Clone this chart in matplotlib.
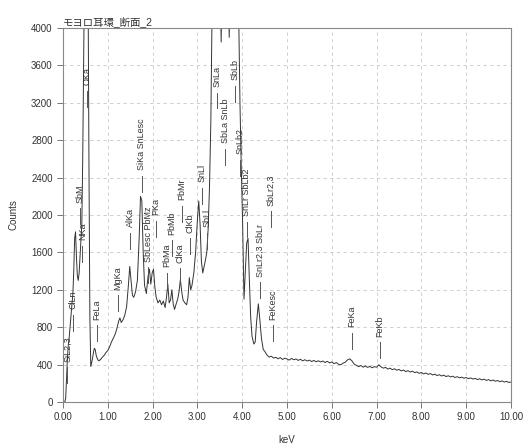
import numpy as np
import matplotlib
matplotlib.use("Agg")
import matplotlib.pyplot as plt

plt.rcParams['font.family'] = ['Liberation Sans', 'Noto Sans CJK JP', 'DejaVu Sans']

# ---------------- data ----------------
title = "モヨロ耳環_断面_2"

# main spectrum (0 - 4.47 keV)
kev_main = [0.00, 0.04, 0.06, 0.08, 0.10, 0.12, 0.14, 0.16, 0.18, 0.20, 0.22, 0.24, 0.26, 0.28,
            0.30, 0.32, 0.34, 0.36, 0.38, 0.40, 0.42, 0.44, 0.46, 0.48, 0.50, 0.52, 0.54, 0.56,
            0.58, 0.60, 0.62, 0.64, 0.66, 0.68, 0.70, 0.72, 0.74, 0.76, 0.78, 0.80, 0.84, 0.88,
            0.92, 0.96, 1.00, 1.04, 1.08, 1.12, 1.16, 1.20, 1.24, 1.27, 1.30, 1.34, 1.38, 1.42,
            1.46, 1.49, 1.52, 1.55, 1.58, 1.62, 1.66, 1.70, 1.73, 1.76, 1.79, 1.82, 1.86, 1.90,
            1.93, 1.96, 1.99, 2.02, 2.05, 2.08, 2.12, 2.16, 2.20, 2.24, 2.28, 2.31, 2.34, 2.37,
            2.40, 2.43, 2.46, 2.49, 2.52, 2.56, 2.59, 2.62, 2.65, 2.68, 2.72, 2.76, 2.79, 2.82,
            2.85, 2.88, 2.92, 2.96, 3.00, 3.03, 3.06, 3.09, 3.12, 3.15, 3.18, 3.21, 3.24, 3.27,
            3.30, 3.33, 3.38, 3.44, 3.50, 3.53, 3.56, 3.62, 3.67, 3.71, 3.74, 3.83, 3.88, 3.92,
            3.95, 3.98, 4.01, 4.04, 4.07, 4.10, 4.13, 4.16, 4.19, 4.22, 4.26, 4.29, 4.32, 4.36,
            4.39, 4.43, 4.47]
counts_main = [0, 0, 40, 250, 480, 620, 700, 820, 950, 1050, 1150, 1400, 1750, 1820,
               1550, 1350, 1300, 1380, 1550, 1700, 1900, 2600, 3600, 4600, 5500, 6000, 5600, 4400,
               2500, 900, 380, 420, 470, 530, 575, 560, 500, 470, 450, 440, 455, 480,
               500, 530, 550, 590, 640, 680, 720, 780, 860, 900, 850, 880, 930, 1020,
               1250, 1450, 1300, 1140, 1120, 1180, 1300, 1750, 2200, 2150, 1600, 1250, 1160, 1350,
               1420, 1260, 1380, 1420, 1230, 1120, 1060, 1090, 1040, 1080, 1010, 1120, 1260, 1060,
               1090, 1200, 1050, 990, 1040, 1100, 1180, 1310, 1180, 1090, 1060, 1040, 1120, 1330,
               1200, 1250, 1380, 1600, 1950, 2150, 1900, 1500, 1380, 1450, 1520, 1600, 1850, 2300,
               3000, 4300, 5500, 6500, 4800, 3850, 4800, 5500, 5200, 3900, 4800, 5000, 4600, 4200,
               3200, 2500, 1900, 1100, 1400, 1700, 1750, 1300, 900, 700, 620, 640, 850, 1050,
               900, 680, 560]

# tail (4.50 - 10.00 keV, every 0.05 keV)
kev_tail = np.round(np.arange(4.50, 10.001, 0.05), 2)
counts_tail = [545, 505, 480, 490, 470, 478, 462, 475, 455, 468, 460, 448, 466, 452, 460, 445,
               457, 440, 452, 438, 448, 432, 445, 430, 441, 428, 438, 422, 435, 418, 428, 410,
               422, 404, 398, 415, 425, 450, 462, 440, 405, 392, 378, 390, 372, 385, 370, 381,
               366, 378, 372, 398, 375, 362, 370, 352, 362, 346, 355, 340, 348, 333, 342, 325,
               336, 320, 330, 314, 322, 306, 316, 300, 310, 296, 304, 289, 298, 283, 292, 278,
               287, 272, 281, 268, 276, 262, 271, 258, 266, 254, 262, 249, 258, 245, 253, 240,
               249, 236, 244, 231, 240, 226, 235, 222, 230, 217, 226, 213, 221, 209, 214]

# peak markers: label, energy (keV), count level at text bottom
marker_labels = ["SiL2,3", "ClLn", "SbM", "NKa", "OKa", "FeLa", "MgKa", "AlKa", "SiKa SnLesc",
                 "SbLesc PbMz", "PKa", "PbMa", "PbMb", "ClKa", "PbMr", "ClKb", "SnLl", "SbLl",
                 "SnLa", "SbLa SnLb", "SbLb", "SnLb2", "SnLr SbLb2", "SnLr2,3 SbLr", "SbLr2,3",
                 "FeKesc", "FeKa", "FeKb"]
marker_kev = [0.10, 0.23, 0.37, 0.43, 0.53, 0.76, 1.23, 1.50, 1.76,
              1.90, 2.08, 2.32, 2.43, 2.61, 2.66, 2.83, 3.10, 3.21,
              3.44, 3.62, 3.84, 3.95, 4.10, 4.40, 4.65,
              4.69, 6.45, 7.08]
marker_base = [430, 990, 2130, 1730, 3390, 880, 1200, 1870, 2480,
               1500, 2000, 1440, 1790, 1490, 2160, 1810, 2350, 1870,
               3370, 2770, 3440, 2650, 1990, 1340, 2100,
               880, 800, 700]

# ---------------- plot ----------------
fig = plt.figure(figsize=(5.23, 4.44), dpi=100)
ax = fig.add_axes([63/523, 1-402/444, (511-63)/523, (402-28)/444])

kev = np.concatenate([np.array(kev_main), kev_tail])
cnt = np.concatenate([np.array(counts_main), np.array(counts_tail)])
ax.plot(kev, cnt, color='#333333', lw=0.7, clip_on=True)

for lab, e, b in zip(marker_labels, marker_kev, marker_base):
    ax.plot([e, e], [b - 230, b - 60], color='#555555', lw=0.7)
    ax.text(e, b, lab, rotation=90, ha='center', va='bottom', fontsize=6.5, color='#333333')

ax.set_xlim(0, 10)
ax.set_ylim(0, 4000)
ax.set_xticks(np.arange(0, 10.01, 1))
ax.set_xticklabels([f"{v:.2f}" for v in np.arange(0, 10.01, 1)])
ax.set_yticks(np.arange(0, 4001, 400))
ax.tick_params(labelsize=7, colors='#333333', length=4, width=0.7, color='#777777')
ax.grid(True, color='#c8c8c8', linestyle=(0, (4, 4)), linewidth=0.6)
for s in ax.spines.values():
    s.set_color('#888888')
    s.set_linewidth(0.8)

ax.set_xlabel("keV", fontsize=7, color='#333333', labelpad=9)
ax.set_ylabel("Counts", fontsize=7, color='#333333', labelpad=9)
ax.text(0.0, 1.003, title, transform=ax.transAxes, ha='left', va='bottom', fontsize=7.5,
        color='#333333')

fig.savefig("out.png", dpi=100)
